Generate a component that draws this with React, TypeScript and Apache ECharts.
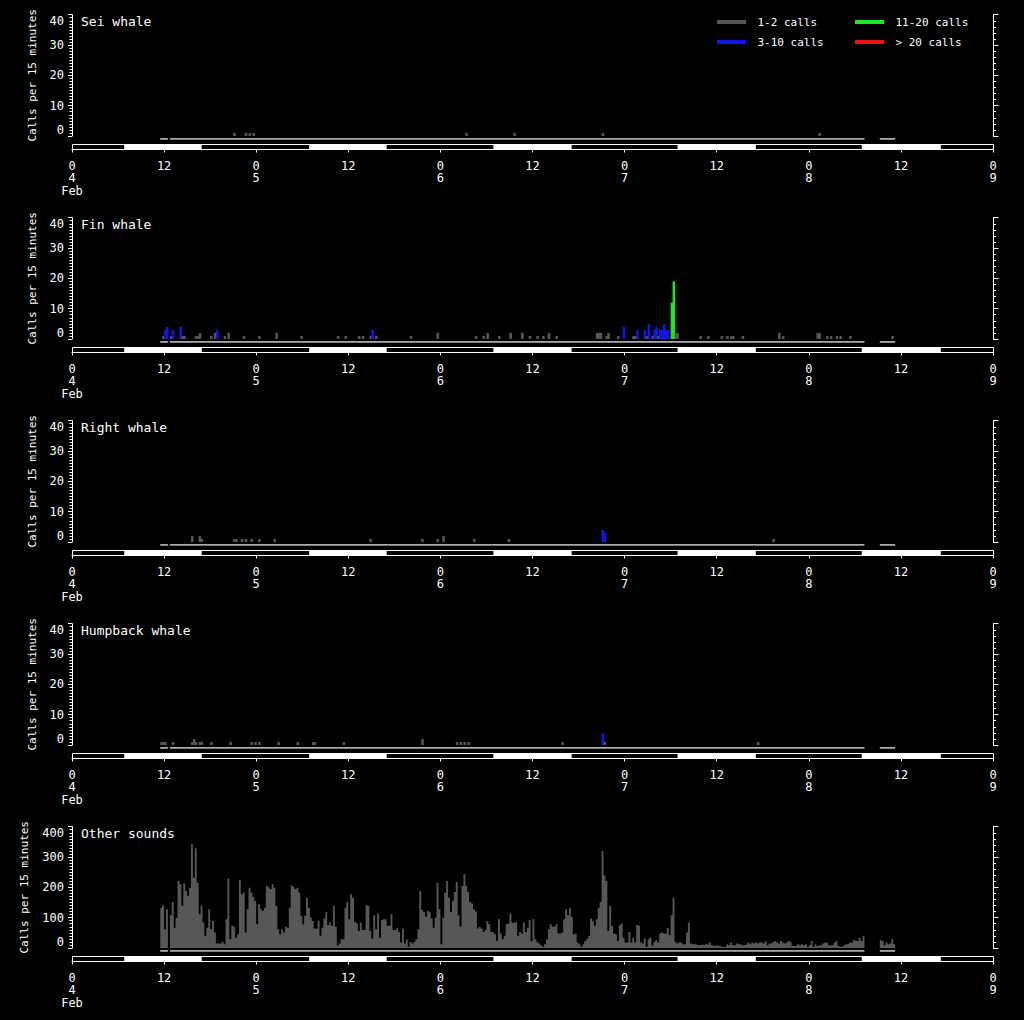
import { useEffect, useRef } from 'react';
import * as echarts from 'echarts';

// ---------- data ----------
const SLOT = 0.25; // hours per 15-minute slot
const TOTAL_HOURS = 120; // Feb 4 00:00 -> Feb 9 00:00

const panelTitles = ['Sei whale', 'Fin whale', 'Right whale', 'Humpback whale', 'Other sounds'];
const panelMax = [40, 40, 40, 40, 400];
const dayLabels = ['4', '5', '6', '7', '8', '9'];
const monthLabel = 'Feb';
const axisName = 'Calls per 15 minutes';
const legendLabels = ['1-2 calls', '3-10 calls', '11-20 calls', '> 20 calls'];

// [slot index from Feb 4 00:00, calls]
const seiCalls: [number, number][] = [[84, 1], [90, 1], [92, 1], [94, 1], [205, 1], [230, 1], [276, 1], [389, 1]];
const finCalls: [number, number][] = [
  [47, 1], [48, 3], [49, 4], [51, 1], [52, 3], [56, 4], [57, 1], [58, 1], [64, 1], [65, 1], [66, 2], [72, 1],
  [74, 2], [75, 3], [79, 1], [81, 2], [89, 1], [97, 1], [106, 2], [119, 1], [138, 1], [142, 1], [149, 1],
  [151, 1], [155, 1], [156, 3], [158, 1], [176, 1], [190, 2], [210, 1], [214, 1], [216, 2], [222, 1], [228, 2],
  [234, 2], [238, 1], [242, 1], [245, 1], [248, 2], [252, 1], [273, 2], [274, 2], [275, 2], [278, 1], [279, 2],
  [284, 1], [287, 4], [292, 1], [293, 1], [294, 3], [298, 3], [299, 1], [300, 5], [302, 1], [303, 3], [304, 4],
  [305, 1], [306, 3], [307, 3], [308, 5], [309, 3], [310, 3], [312, 12], [313, 19], [314, 2], [315, 2], [327, 1],
  [331, 1], [338, 1], [341, 1], [343, 1], [344, 1], [349, 1], [368, 2], [370, 1], [388, 2], [389, 2], [393, 1],
  [395, 1], [398, 1], [400, 1], [405, 1], [427, 1],
];
const rightCalls: [number, number][] = [
  [62, 2], [66, 2], [67, 1], [84, 1], [85, 1], [88, 1], [90, 1], [93, 1], [97, 1], [105, 1], [155, 1], [182, 1],
  [190, 1], [193, 2], [209, 1], [227, 1], [276, 4], [277, 3], [365, 1],
];
const humpbackCalls: [number, number][] = [
  [46, 1], [47, 1], [48, 1], [52, 1], [62, 1], [63, 2], [64, 1], [66, 1], [67, 1], [72, 1], [82, 1], [93, 1],
  [95, 1], [97, 1], [107, 1], [117, 1], [125, 1], [126, 1], [141, 1], [182, 2], [200, 1], [202, 1], [204, 1],
  [206, 1], [255, 1], [276, 4], [277, 1], [357, 1],
];

// Other sounds, consecutive slots starting at slot 46 (Feb 4 11:30)
const otherSoundsFirstSlot = 46;
const otherSoundsA = [
  133, 141, 62, 128, null, 108, 152, 67, 100, 221, 210, 139, 213, 188, 172, 199, 342, 232, 329, 215, 111, 139, 84, 40,
  67, 128, 62, 89, 51, 15, 15, 15, 20, 12, 95, 229, 29, 73, 70, 34, 45, 224, 177, 183, 51, 128, 199, 183, 169, 155,
  78, 144, 128, 122, 133, 205, 200, 194, 210, 199, 139, 62, 45, 62, 51, 70, 67, 133, 207, 201, 194, 199, 183, 106, 78, 106,
];
const otherSoundsB = [
  166, 133, 100, 89, 64, 64, 91, 40, 67, 97, 119, 75, 84, 73, 139, 70, 9, 15, 29, 29, 133, 152, 95, 177, 166, 86, 81,
  56, 84, 59, 59, 142, 139, 56, 31, 108, 62, 114, 34, 92, 95, 95, 73, 73, 111, 59, 59, 67, 53, 18, 64, 15, 29, 4, 20,
  15, 20, 29, 62, 188, 125, 119, 103, 122, 118, 97, 67, 100, 215, 128, 12, 100, 183, 221, 166, 119, 155,
];
const otherSoundsC = [
  185, 218, 108, 70, 205, 243, 205, 185, 152, 147, 128, 120, 64, 70, 64, 53, 59, 89, 78, 53, 51, 45, 23, 95, 48, 29,
  40, 78, 81, 114, 84, 84, 86, 40, 53, 48, 84, 53, 67, 92, 23, 95, 29, 20, 15, 9, 4, 12, 29, 62, 78, 70, 70, 78, 48,
  48, 51, 95, 128, 108, 133, 103, 45, 48, 18, 12, 4, 12, 23, 30, 40, 97, 89, 73, 95, 133, 152,
];
const otherSoundsD = [
  320, 240, 221, 56, 139, 73, 48, 45, 23, 75, 81, 34, 18, 18, 53, 18, 34, 18, 76, 73, 18, 15, 31, 4, 29, 35, 9, 20,
  26, 18, 48, 51, 48, 48, 66, 42, 108, 166, 20, 15, 18, 18, 12, 12, 51, 84, 15, 12, 12, 11, 9, 11, 11, 9, 12, 11, 18,
  9, 7, 9, 7, 9, 4, 3, 4, 12, 9, 18, 9, 9, 15, 12, 12, 9, 11, 12, 18, 12,
];
const otherSoundsE = [
  18, 15, 18, 15, 18, 20, 15, 23, 9, 15, 15, 20, 23, 18, 15, 23, 18, 15, 18, 23, 20, 7, 7, 9, 12, 9, 12, 9, 12, 4, 9,
  23, 4, 12, 7, 9, 11, 15, 18, 18, 9, 9, 11, 18, 23, 7, 4, 4, 9, 12, 12, 18, 18, 26, 23, 23, 34, 23, 40,
];
const otherSoundsGap = [null, null, null, null, null, null, null, null];
const otherSoundsF = [26, 23, 9, 18, 12, 15, 29, 12];
const otherSounds: (number | null)[] = [
  ...otherSoundsA, ...otherSoundsB, ...otherSoundsC, ...otherSoundsD, ...otherSoundsE, ...otherSoundsGap, ...otherSoundsF,
];

// recording coverage [first slot, end slot)
const coverageSlots: [number, number][] = [[46, 50], [51, 413], [421, 429]];
// daylight periods in hours since Feb 4 00:00
const daylightHours: [number, number][] = [[6.8, 16.9], [30.9, 41.0], [54.9, 65.1], [78.9, 89.1], [102.9, 113.2]];

// ---------- styles ----------
const FONT = '"DejaVu Sans Mono", "Liberation Mono", monospace';
const WHITE = '#ffffff';
const GREY = '#575757';
const BLUE = '#1414e6';
const GREEN = '#19ea19';
const RED = '#ea1414';
const COVER = '#aaaaaa';
const legendColors = [GREY, BLUE, GREEN, RED];

const PANEL_STEP = 203;
const PLOT_TOP = 14.7;
const PLOT_H = 121.3;
const STRIP_TOP = 137;
const STRIP_H = 12.5;
const LEFT = 72;
const RIGHT = 31;

function classColor(v: number) {
  if (v <= 2) return GREY;
  if (v <= 10) return BLUE;
  if (v <= 20) return GREEN;
  return RED;
}

function renderBar(_params: any, api: any) {
  const t = api.value(0);
  const v = api.value(1);
  if (!v) return null;
  const top = api.coord([t, v]);
  const base = api.coord([t + SLOT, 0]);
  return {
    type: 'rect',
    shape: { x: top[0], y: top[1], width: base[0] - top[0] + 0.6, height: base[1] - top[1] },
    style: { fill: classColor(v) },
  };
}

function renderCoverage(_params: any, api: any) {
  const a = api.coord([api.value(0), 11.5]);
  const b = api.coord([api.value(1), 9.7]);
  return { type: 'rect', shape: { x: a[0], y: a[1], width: b[0] - a[0], height: b[1] - a[1] }, style: { fill: COVER } };
}

function renderDayNight(_params: any, api: any) {
  const kind = api.value(2);
  if (kind === 0) {
    const a = api.coord([api.value(0), 5]);
    const b = api.coord([api.value(1), 0]);
    return {
      type: 'rect',
      shape: { x: a[0] + 0.5, y: a[1], width: b[0] - a[0], height: b[1] - a[1] },
      style: { fill: '#000', stroke: WHITE, lineWidth: 1 },
    };
  }
  const a = api.coord([api.value(0), 5.5]);
  const b = api.coord([api.value(1), 0]);
  return { type: 'rect', shape: { x: a[0], y: a[1], width: b[0] - a[0], height: b[1] - a[1] }, style: { fill: WHITE } };
}

function buildOption() {
  const grid: any[] = [];
  const xAxis: any[] = [];
  const yAxis: any[] = [];
  const series: any[] = [];
  const title: any[] = [];
  const whaleSets = [seiCalls, finCalls, rightCalls, humpbackCalls];

  panelTitles.forEach((name, k) => {
    const off = k * PANEL_STEP;
    const max = panelMax[k];
    grid.push({ left: LEFT, right: RIGHT, top: PLOT_TOP + off, height: PLOT_H });
    grid.push({ left: LEFT, right: RIGHT, top: STRIP_TOP + off, height: STRIP_H });

    xAxis.push({ type: 'value', gridIndex: 2 * k, min: 0, max: TOTAL_HOURS, show: false });
    xAxis.push({
      type: 'value', gridIndex: 2 * k + 1, min: 0, max: TOTAL_HOURS, interval: 12,
      axisLine: { show: true, lineStyle: { color: WHITE, width: 1 } },
      axisTick: { show: true, length: 3, lineStyle: { color: WHITE } },
      splitLine: { show: false },
      axisLabel: {
        show: true, showMinLabel: true, showMaxLabel: true, color: WHITE, fontFamily: FONT, fontSize: 12,
        lineHeight: 12.5, margin: 10, align: 'center',
        formatter: (v: number) => {
          const h = Math.round(v);
          if (h % 24 === 12) return '12';
          const d = h / 24;
          return '0\n' + dayLabels[d] + (d === 0 ? '\n' + monthLabel : '');
        },
      },
    });

    yAxis.push({
      type: 'value', gridIndex: 2 * k, min: 0, max, interval: max / 4, position: 'left',
      axisLine: { show: true, lineStyle: { color: WHITE, width: 1 } },
      axisTick: { show: true, length: 4, lineStyle: { color: WHITE } },
      minorTick: { show: true, splitNumber: 10, length: 2.5, lineStyle: { color: WHITE } },
      splitLine: { show: false },
      axisLabel: {
        color: WHITE, fontFamily: FONT, fontSize: 12, margin: 8,
        verticalAlignMinLabel: 'bottom', verticalAlignMaxLabel: 'top',
      },
      name: axisName, nameLocation: 'middle', nameGap: k === 4 ? 42 : 34, nameRotate: 90,
      nameTextStyle: { color: WHITE, fontFamily: FONT, fontSize: 11 },
    });
    yAxis.push({
      type: 'value', gridIndex: 2 * k, min: 0, max, interval: max / 4, position: 'right',
      axisLine: { show: true, lineStyle: { color: WHITE, width: 1 } },
      axisTick: { show: true, length: 5.5, lineStyle: { color: WHITE } },
      minorTick: { show: true, splitNumber: 5, length: 3, lineStyle: { color: WHITE } },
      splitLine: { show: false },
      axisLabel: { show: false },
    });
    yAxis.push({ type: 'value', gridIndex: 2 * k + 1, min: 0, max: STRIP_H, show: false });

    title.push({
      text: name, left: 81, top: 15 + off, padding: 0,
      textStyle: { color: WHITE, fontFamily: FONT, fontSize: 13, fontWeight: 'normal' },
    });

    if (k < 4) {
      series.push({
        type: 'custom', name, xAxisIndex: 2 * k, yAxisIndex: 3 * k, renderItem: renderBar,
        encode: { x: 0, y: 1 }, data: whaleSets[k].map(([slot, v]) => [slot * SLOT, v]), silent: true,
      });
    } else {
      // stepped area: each 15-minute count spans its whole slot; missing slots break the area
      const stepData: any[] = [];
      otherSounds.forEach((v, j) => {
        const t = (otherSoundsFirstSlot + j) * SLOT;
        if (v == null) {
          stepData.push([t, '-']);
        } else {
          stepData.push([t, v], [t + SLOT, v]);
        }
      });
      series.push({
        type: 'line', name, xAxisIndex: 2 * k, yAxisIndex: 3 * k, data: stepData,
        symbol: 'none', showSymbol: false, connectNulls: false, smooth: false,
        lineStyle: { width: 0, color: GREY }, areaStyle: { color: GREY, opacity: 1 },
        silent: true, z: 2,
      });
    }
    series.push({
      type: 'custom', xAxisIndex: 2 * k + 1, yAxisIndex: 3 * k + 2, renderItem: renderCoverage,
      encode: { x: [0, 1] }, data: coverageSlots.map(([a, b]) => [a * SLOT, b * SLOT]), silent: true,
    });
    series.push({
      type: 'custom', xAxisIndex: 2 * k + 1, yAxisIndex: 3 * k + 2, renderItem: renderDayNight,
      encode: { x: [0, 1] },
      data: [[0, TOTAL_HOURS, 0], ...daylightHours.map(([a, b]) => [a, b, 1])], silent: true,
    });
  });

  const legendPos = [[717, 22], [717, 42], [855, 22], [855, 42]];
  const graphic: any[] = [];
  legendLabels.forEach((label, i) => {
    const [x, y] = legendPos[i];
    graphic.push({ type: 'rect', x, y: y - 2, shape: { x: 0, y: 0, width: 29, height: 4 }, style: { fill: legendColors[i] } });
    graphic.push({
      type: 'text', x: x + 40.5, y,
      style: { text: label, fill: WHITE, font: `11px ${FONT}`, verticalAlign: 'middle', align: 'left' },
    });
  });

  return {
    animation: false,
    backgroundColor: '#000000',
    title, grid, xAxis, yAxis, series, graphic,
  };
}

export default function App() {
  const ref = useRef<HTMLDivElement>(null);
  useEffect(() => {
    document.body.style.margin = '0';
    document.body.style.background = '#000';
    const chart = echarts.init(ref.current!, null, { renderer: 'svg' });
    chart.setOption(buildOption() as any);
    return () => chart.dispose();
  }, []);
  return <div ref={ref} style={{ width: 1024, height: 1020, background: '#000' }} />;
}
